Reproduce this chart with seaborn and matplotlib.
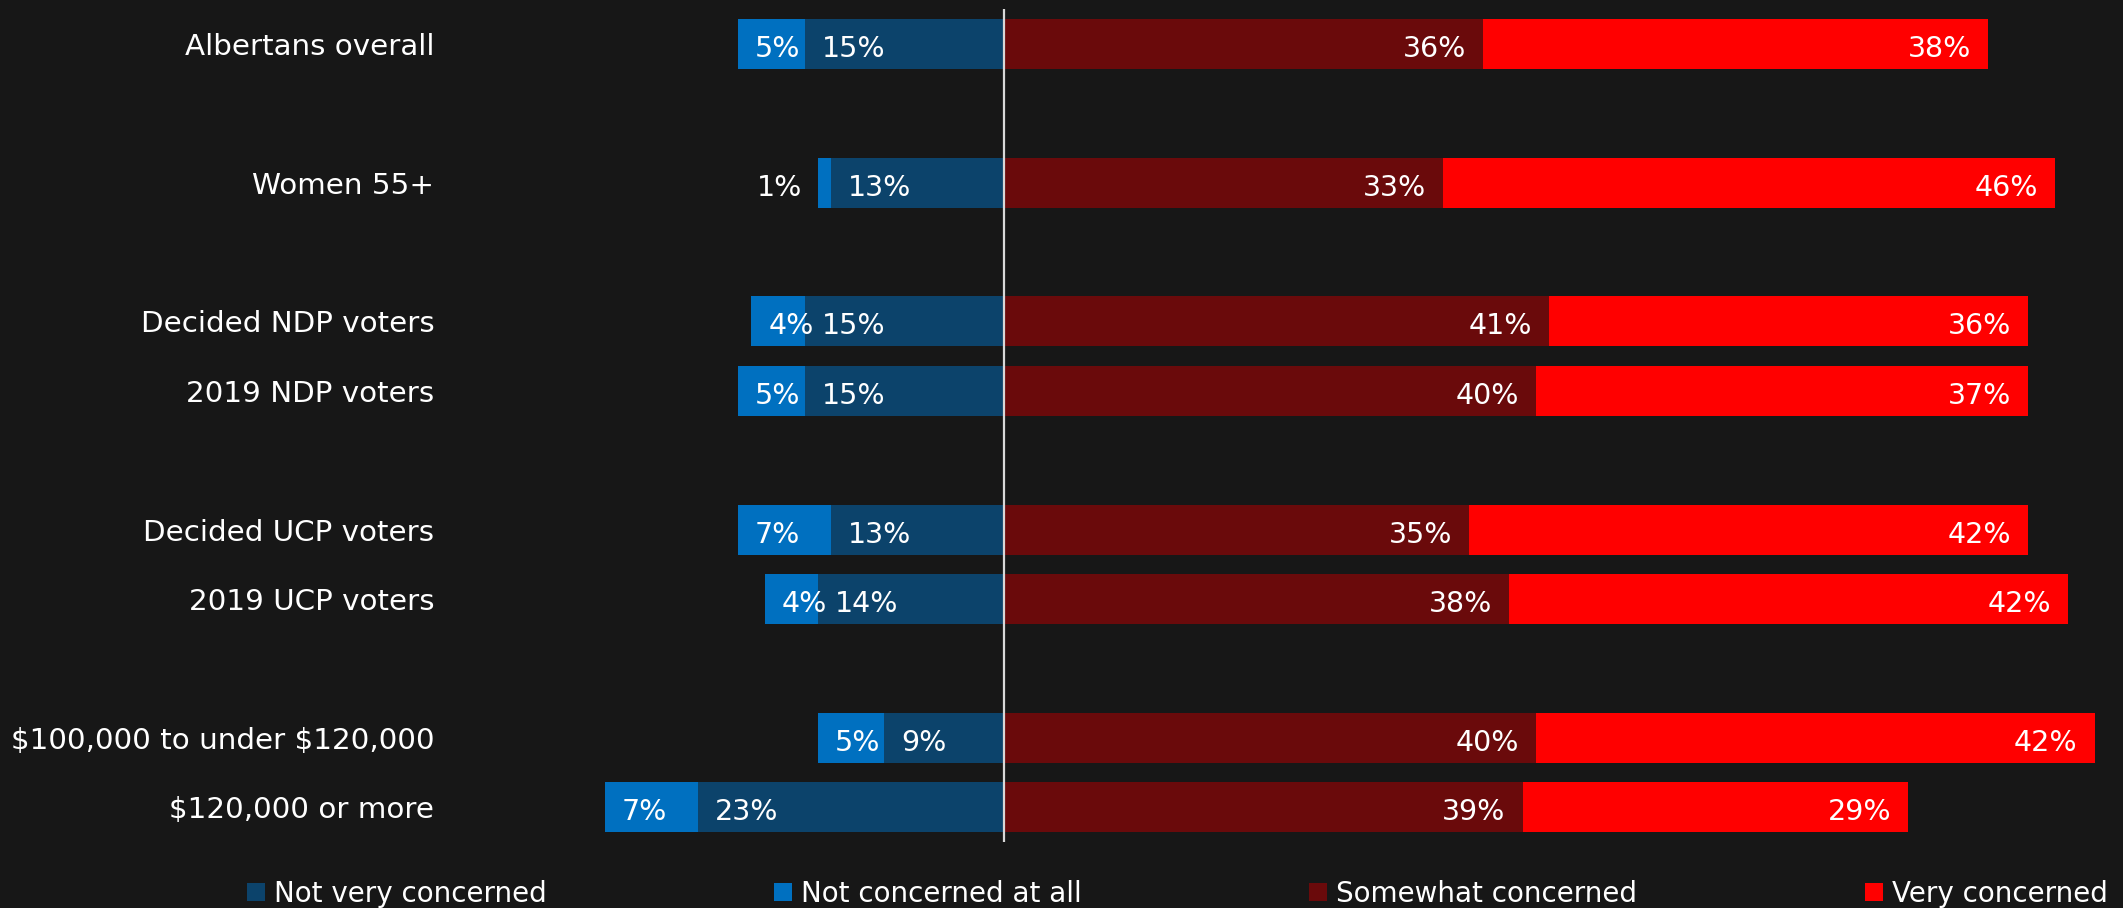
import matplotlib
matplotlib.use("Agg")
import matplotlib.pyplot as plt
import seaborn as sns
import pandas as pd
from matplotlib.patches import Patch

# data
rows = [
    "Albertans overall",
    "Women 55+",
    "Decided NDP voters",
    "2019 NDP voters",
    "Decided UCP voters",
    "2019 UCP voters",
    "$100,000 to under $120,000",
    "$120,000 or more",
]
# rows grouped as drawn, blank slot between groups
groups = [[0], [1], [2, 3], [4, 5], [6, 7]]

not_at_all = [5, 1, 4, 5, 7, 4, 5, 7]
not_very = [15, 13, 15, 15, 13, 14, 9, 23]
somewhat = [36, 33, 41, 40, 35, 38, 40, 39]
very = [38, 46, 36, 37, 42, 42, 42, 29]

legend_labels = ["Not very concerned", "Not concerned at all", "Somewhat concerned", "Very concerned"]

BG = "#171717"
C_NOT_VERY = "#0c436b"
C_NOT_AT_ALL = "#0070c0"
C_SOMEWHAT = "#6a0a0b"
C_VERY = "#ff0000"

sns.set_style("dark")
plt.rcParams["font.family"] = ["DejaVu Sans"]

labels = [r.replace("$", r"\$") for r in rows]

order = []
for i, g in enumerate(groups):
    if i > 0:
        order.append(" " * i)
    order += [labels[k] for k in g]

df = pd.DataFrame({
    "label": labels,
    "not_at_all": not_at_all,
    "not_very": not_very,
    "somewhat": somewhat,
    "very": very,
})
df["neg_total"] = -(df["not_at_all"] + df["not_very"])
df["neg_inner"] = -df["not_very"]
df["pos_total"] = df["somewhat"] + df["very"]

fig = plt.figure(figsize=(21.23, 9.08), dpi=100, facecolor=BG)
ax = fig.add_axes([455 / 2123, 1 - 842 / 908, 1 - 455 / 2123, (842 - 9) / 908])
ax.set_facecolor(BG)

bar_kw = dict(y="label", order=order, orient="h", width=0.72, errorbar=None,
              saturation=1, ax=ax, linewidth=0)
sns.barplot(data=df, x="neg_total", color=C_NOT_AT_ALL, **bar_kw)
sns.barplot(data=df, x="neg_inner", color=C_NOT_VERY, **bar_kw)
sns.barplot(data=df, x="pos_total", color=C_VERY, **bar_kw)
sns.barplot(data=df, x="somewhat", color=C_SOMEWHAT, **bar_kw)

ax.set_xlim(-41.28, 84.14)
ax.set_ylim(len(order) - 0.5, -0.5)
ax.axvline(0, color="#d8d8d8", lw=1.6, zorder=5)

ax.set_xlabel("")
ax.set_ylabel("")
ax.set_xticks([])
ax.tick_params(axis="y", length=0, pad=15, labelsize=21.2, labelcolor="white")
for s in ax.spines.values():
    s.set_visible(False)
ax.grid(False)

# percentage labels
pad = 12.2
lab_kw = dict(textcoords="offset points", color="white", fontsize=20.5, va="center_baseline")
for _, r in df.iterrows():
    y = order.index(r["label"])
    if r["not_at_all"] < 2:
        ax.annotate(f"{r['not_at_all']}%", (r["neg_total"], y), xytext=(-pad + 1, -1.5), ha="right", **lab_kw)
    else:
        ax.annotate(f"{r['not_at_all']}%", (r["neg_total"], y), xytext=(pad, -1.5), ha="left", **lab_kw)
    ax.annotate(f"{r['not_very']}%", (r["neg_inner"], y), xytext=(pad, -1.5), ha="left", **lab_kw)
    ax.annotate(f"{r['somewhat']}%", (r["somewhat"], y), xytext=(-pad, -1.5), ha="right", **lab_kw)
    ax.annotate(f"{r['very']}%", (r["pos_total"], y), xytext=(-pad, -1.5), ha="right", **lab_kw)

handles = [Patch(facecolor=c, edgecolor="none") for c in [C_NOT_VERY, C_NOT_AT_ALL, C_SOMEWHAT, C_VERY]]
fig.legend(handles, legend_labels, loc="center left", bbox_to_anchor=(247 / 2123, 1 - 894 / 908),
           ncol=4, frameon=False, fontsize=20, labelcolor="white", borderpad=0, borderaxespad=0,
           handlelength=0.64, handleheight=0.64, handletextpad=0.32, columnspacing=8.2)

fig.savefig("out.png", dpi=100, facecolor=BG)
